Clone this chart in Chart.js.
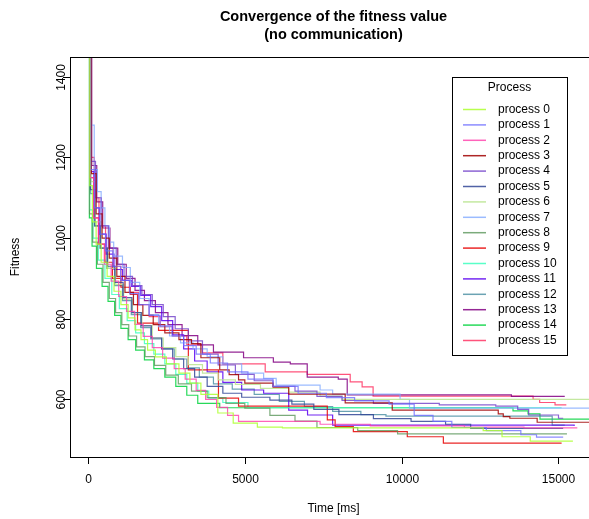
<!DOCTYPE html>
<html>
<head>
<meta charset="utf-8">
<script src="https://cdn.jsdelivr.net/npm/chart.js@4"></script>
<style>
  html, body { margin: 0; padding: 0; overflow: hidden; background: #fff; }
  canvas { display: block; }
</style>
</head>
<body>
<canvas id="chart" width="614" height="519"></canvas>
<script>
// step points per process: [time in ms, fitness after the improvement]
const process0 = [[0,1500],[60,1130],[140,1040],[260,985],[420,940],[610,905],[830,868],[1050,835],[1280,802],[1500,772],[1690,748],[1900,722],[2150,705],[2500,688],[2900,665],[3250,640],[3600,612],[4140,566],[4630,541],[5400,531],[6200,529],[12600,522],[13200,507],[14100,496],[15460,496]];
const process1 = [[0,1500],[90,1170],[210,1075],[380,1010],[560,968],[790,930],[1040,895],[1330,862],[1620,835],[1950,808],[2300,782],[2680,757],[3050,733],[3450,712],[3900,690],[4450,668],[5100,650],[5900,632],[6700,615],[7600,604],[8500,596],[9600,588],[10400,560],[11000,545],[11600,530],[12700,522],[13800,512],[14300,506],[15150,506]];
const process2 = [[0,1500],[70,1150],[180,1050],[330,985],[520,935],[740,893],[980,855],[1230,818],[1490,786],[1760,756],[2050,728],[2380,702],[2750,676],[3100,650],[3450,622],[3750,600],[4100,580],[4450,560],[4800,545],[7400,538],[9000,534],[12000,531],[13900,529],[15600,529]];
const process3 = [[0,1500],[110,1160],[260,1060],[450,1000],[680,950],[920,905],[1180,865],[1450,835],[1750,808],[2080,785],[2450,765],[2900,748],[3300,738],[3600,703],[4200,673],[4500,661],[4800,648],[5000,640],[5900,630],[6400,613],[8200,591],[9700,573],[13080,564],[13240,557],[13450,553],[14320,543],[16300,543]];
const process4 = [[0,1500],[100,1190],[240,1100],[420,1030],[650,975],[900,935],[1150,905],[1420,882],[1720,860],[2050,835],[2400,805],[2780,775],[3200,745],[3650,712],[4150,685],[4700,662],[5300,646],[5900,632],[6600,620],[7300,607],[8100,597],[9100,590],[11200,586],[13000,583],[13700,575],[14050,561],[15000,553],[15150,553]];
const process5 = [[0,1500],[80,1120],[220,1030],[400,975],[620,930],[860,890],[1120,852],[1400,815],[1700,782],[2020,752],[2350,725],[2700,700],[3050,676],[3400,655],[3800,632],[4300,615],[4900,605],[5800,598],[6500,588],[7200,575],[8000,562],[9100,552],[10300,545],[11400,538],[12200,528],[15150,528]];
const process6 = [[0,1500],[95,1140],[230,1040],[420,975],[640,925],[880,885],[1140,848],[1420,815],[1720,783],[2050,752],[2400,728],[2800,706],[3200,686],[3650,665],[4150,648],[4700,637],[5500,627],[6400,618],[7400,608],[8100,600],[16300,600]];
const process7 = [[0,1500],[100,1280],[200,1170],[300,1115],[420,1075],[540,1030],[680,990],[820,955],[1100,927],[1350,890],[1650,850],[1950,810],[2250,780],[2600,757],[2950,740],[3350,725],[3800,705],[4300,688],[4900,665],[5600,652],[6000,635],[7400,623],[7800,613],[9950,600],[10250,578],[16300,578]];
const process8 = [[0,1500],[50,1060],[150,990],[300,935],[480,890],[680,850],[880,815],[1080,785],[1300,757],[1550,730],[1820,706],[2120,684],[2480,660],[2880,638],[3300,620],[3800,604],[4400,590],[5000,578],[5800,560],[6600,546],[7300,530],[8600,522],[9870,514],[15270,514]];
const process9 = [[0,1500],[75,1150],[190,1050],[340,985],[540,940],[780,900],[1050,878],[1350,860],[1580,789],[2250,771],[3200,673],[4160,603],[4800,583],[7630,549],[7880,532],[8460,520],[10180,507],[11330,491],[15100,491]];
const process10 = [[0,1500],[55,1070],[160,1000],[330,945],[540,900],[760,860],[1000,825],[1250,795],[1520,765],[1800,738],[2100,712],[2450,688],[2800,662],[3150,640],[3500,620],[3850,603],[4300,592],[5100,579],[15100,579]];
const process11 = [[0,1500],[65,1165],[190,1075],[360,1010],[580,960],[830,922],[1100,895],[1380,880],[1680,858],[2000,830],[2350,795],[2700,760],[3050,725],[3400,695],[3800,668],[4300,642],[4900,623],[5600,615],[6400,573],[7000,561],[7800,536],[15500,534]];
const process12 = [[0,1500],[85,1110],[210,1030],[380,975],[600,925],[850,882],[1100,845],[1380,810],[1680,778],[2000,750],[2350,725],[2750,700],[3150,678],[3550,655],[4000,638],[4600,625],[5300,612],[6100,595],[6900,582],[7800,570],[8700,562],[9500,558],[14800,536],[15200,536]];
const process13 = [[0,1500],[120,1180],[280,1090],[470,1025],[700,975],[950,935],[1220,900],[1500,870],[1800,845],[2150,815],[2550,785],[3000,758],[3500,735],[4000,717],[4960,703],[5910,692],[6450,688],[6990,655],[7980,650],[8265,611],[13500,607],[15200,607]];
const process14 = [[0,1500],[45,1050],[130,980],[270,925],[450,880],[640,843],[850,808],[1050,776],[1280,748],[1520,722],[1800,698],[2100,676],[2450,655],[2800,632],[3150,610],[3500,590],[4200,579],[13550,571],[14030,564],[14410,551],[16300,551]];
const process15 = [[0,1500],[80,1200],[200,1100],[350,1030],[560,975],[800,930],[1050,895],[1320,865],[1620,835],[1950,805],[2300,780],[2700,757],[3150,735],[3650,715],[4300,688],[5650,668],[6990,662],[8360,643],[8740,631],[9090,608],[14190,600],[14400,592],[14890,586],[15250,586]];

const processes = [process0, process1, process2, process3, process4, process5, process6, process7,
                   process8, process9, process10, process11, process12, process13, process14, process15];
const processLabels = processes.map((p, i) => "process " + i);
const xTicks = [0, 5000, 10000, 15000];
const yTicks = [600, 800, 1000, 1200, 1400];

const colors = [
  "rgba(173,255,47,0.85)", "rgba(110,110,255,0.8)", "rgba(255,60,170,0.8)", "rgba(160,0,0,0.85)",
  "rgba(110,60,200,0.8)", "rgba(50,70,150,0.85)", "rgba(190,230,150,0.9)", "rgba(130,170,255,0.8)",
  "rgba(90,150,90,0.8)", "rgba(230,0,0,0.85)", "rgba(60,255,190,0.85)", "rgba(90,0,240,0.85)",
  "rgba(70,140,160,0.8)", "rgba(130,0,130,0.85)", "rgba(0,210,60,0.85)", "rgba(255,40,90,0.8)"
];

const FONT = '"Liberation Sans", Arial, Helvetica, sans-serif';

// R style axes, box, titles and legend
const rStyle = {
  id: "rStyle",
  afterDraw(chart) {
    const ctx = chart.ctx;
    const area = chart.chartArea;
    const xs = chart.scales.x, ys = chart.scales.y;
    ctx.save();
    ctx.strokeStyle = "#000";
    ctx.fillStyle = "#000";
    ctx.lineWidth = 1;
    ctx.strokeRect(Math.round(area.left) + 0.5, Math.round(area.top) + 0.5,
                   Math.round(area.right - area.left), Math.round(area.bottom - area.top));

    ctx.font = "12px " + FONT;
    ctx.textAlign = "center";
    ctx.textBaseline = "middle";
    xTicks.forEach(v => {
      const px = Math.round(xs.getPixelForValue(v)) + 0.5;
      ctx.beginPath();
      ctx.moveTo(px, area.bottom);
      ctx.lineTo(px, area.bottom + 7);
      ctx.stroke();
      ctx.fillText(String(v), px, 480);
    });
    yTicks.forEach(v => {
      const py = Math.round(ys.getPixelForValue(v)) + 0.5;
      ctx.beginPath();
      ctx.moveTo(area.left - 7, py);
      ctx.lineTo(area.left, py);
      ctx.stroke();
      ctx.save();
      ctx.translate(62, py);
      ctx.rotate(-Math.PI / 2);
      ctx.fillText(String(v), 0, 0);
      ctx.restore();
    });

    const cx = (area.left + area.right) / 2;
    ctx.fillText("Time [ms]", cx, 509);
    ctx.save();
    ctx.translate(16, (area.top + area.bottom) / 2);
    ctx.rotate(-Math.PI / 2);
    ctx.fillText("Fitness", 0, 0);
    ctx.restore();

    ctx.font = "bold 14.5px " + FONT;
    ctx.fillText("Convergence of the fitness value", cx, 17);
    ctx.fillText("(no communication)", cx, 35);

    // legend
    const lx = 452, ly = 77, lw = 115, lh = 278;
    ctx.fillStyle = "#fff";
    ctx.fillRect(lx, ly, lw, lh);
    ctx.strokeStyle = "#000";
    ctx.strokeRect(lx + 0.5, ly + 0.5, lw, lh);
    ctx.fillStyle = "#000";
    ctx.font = "12px " + FONT;
    ctx.fillText("Process", lx + lw / 2, 88);
    ctx.textAlign = "left";
    processLabels.forEach((label, i) => {
      const y = 109.5 + i * 15.4;
      ctx.strokeStyle = colors[i];
      ctx.lineWidth = 1.5;
      ctx.beginPath();
      ctx.moveTo(463, y);
      ctx.lineTo(486, y);
      ctx.stroke();
      ctx.fillText(label, 498, y);
    });
    ctx.restore();
  }
};

new Chart(document.getElementById("chart"), {
  type: "line",
  data: {
    datasets: processes.map((pts, i) => ({
      label: processLabels[i],
      data: pts.map(([t, f]) => ({ x: t, y: f })),
      borderColor: colors[i],
      borderWidth: 1.2,
      stepped: true,
      pointRadius: 0,
      fill: false
    }))
  },
  options: {
    responsive: false,
    animation: false,
    devicePixelRatio: 1,
    layout: { padding: { left: 70, right: 17, top: 57, bottom: 62 } },
    scales: {
      x: { type: "linear", min: -573, max: 16228, display: false },
      y: { type: "linear", min: 456.8, max: 1449.2, display: false }
    },
    plugins: {
      legend: { display: false },
      tooltip: { enabled: false },
      title: { display: false }
    }
  },
  plugins: [rStyle]
});
</script>
</body>
</html>
